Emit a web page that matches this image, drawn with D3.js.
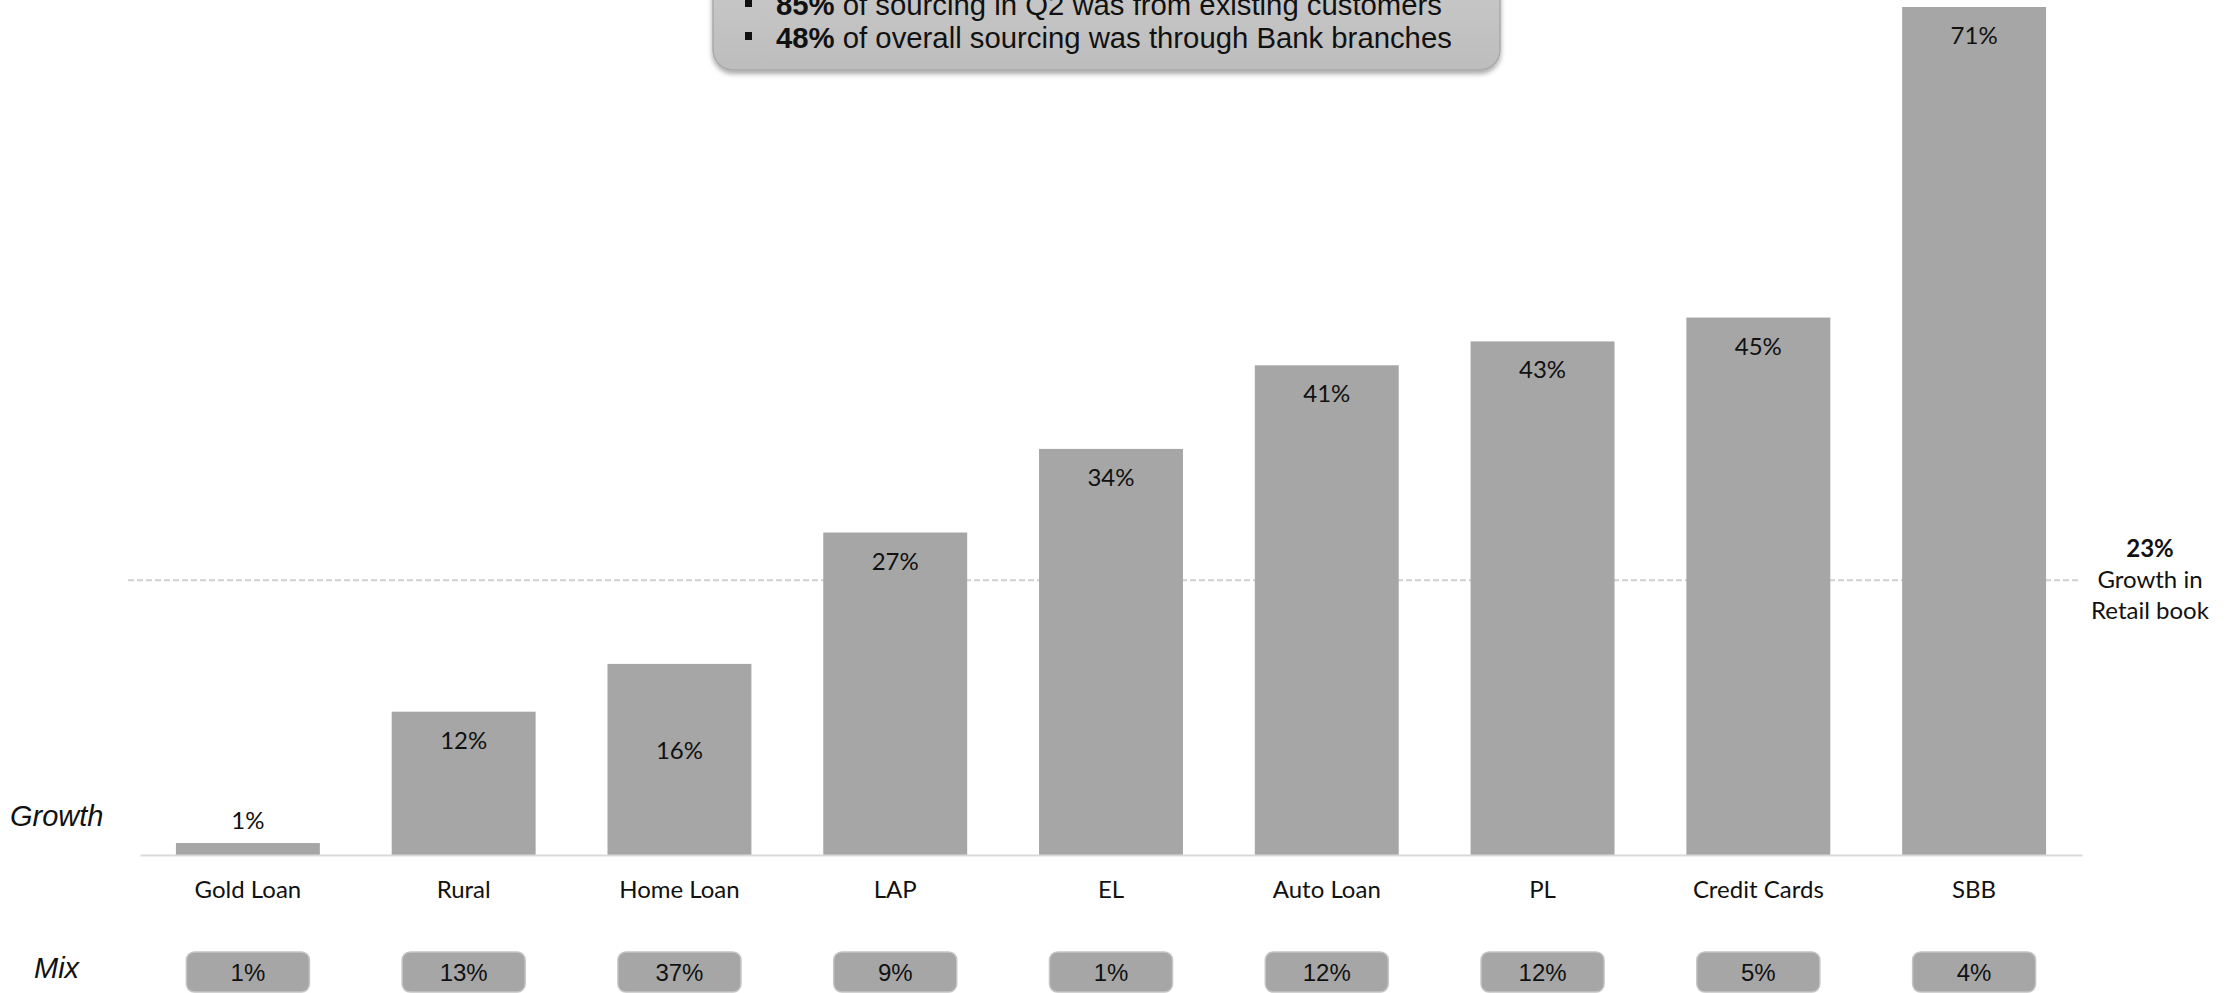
<!DOCTYPE html>
<html>
<head>
<meta charset="utf-8">
<script src="https://cdn.jsdelivr.net/npm/d3@7"></script>
<style>
  html, body { margin: 0; padding: 0; background: #ffffff; }
  svg { display: block; }
</style>
</head>
<body>
<script>
// Retail loan products: year-on-year growth and share of the retail book
const categories = ["Gold Loan", "Rural", "Home Loan", "LAP", "EL", "Auto Loan", "PL", "Credit Cards", "SBB"];
const growth = [1, 12, 16, 27, 34, 41, 43, 45, 71];
const mix = [1, 13, 37, 9, 1, 12, 12, 5, 4];
const retailGrowth = 23;
const highlights = [
  { bold: "85%", rest: " of sourcing in Q2 was from existing customers" },
  { bold: "48%", rest: " of overall sourcing was through Bank branches" }
];
const retailLines = ["Growth in", "Retail book"];

const W = 2229, H = 993;
const barColor = "#a6a6a6";
const pct = d => d + "%";

const svg = d3.select("body").append("svg")
  .attr("width", W).attr("height", H);

const defs = svg.append("defs");
const grad = defs.append("linearGradient").attr("id", "boxFill")
  .attr("x1", 0).attr("y1", 0).attr("x2", 0).attr("y2", 1);
grad.append("stop").attr("offset", "0%").attr("stop-color", "#cdcdcd");
grad.append("stop").attr("offset", "100%").attr("stop-color", "#bdbdbd");
const shadow = defs.append("filter").attr("id", "boxShadow")
  .attr("x", "-5%").attr("y", "-20%").attr("width", "110%").attr("height", "150%");
shadow.append("feDropShadow").attr("dx", 0).attr("dy", 3)
  .attr("stdDeviation", 2.5).attr("flood-color", "#000").attr("flood-opacity", 0.35);

// scales
const x = d3.scaleBand().domain(categories).range([140, 2082])
  .paddingInner(0.333).paddingOuter(0.1665);
const y = d3.scaleLinear().domain([0, d3.max(growth)]).range([855, 7]);

const rows = categories.map((c, i) => ({ cat: c, growth: growth[i], mix: mix[i] }));

// reference line: growth of the whole retail book
svg.append("line")
  .attr("x1", 128).attr("x2", 2078)
  .attr("y1", y(retailGrowth)).attr("y2", y(retailGrowth))
  .attr("stroke", "#d0d0d0").attr("stroke-width", 2)
  .attr("stroke-dasharray", "6,3");

// bars
svg.append("g").selectAll("rect").data(rows).join("rect")
  .attr("x", d => x(d.cat))
  .attr("y", d => y(d.growth))
  .attr("width", x.bandwidth())
  .attr("height", d => y(0) - y(d.growth))
  .attr("fill", barColor);

// growth labels: inside the top of the bar, above it when the bar is too short
const labelNudge = { "Home Loan": 58 };
svg.append("g").selectAll("text").data(rows).join("text")
  .attr("x", d => x(d.cat) + x.bandwidth() / 2)
  .attr("y", d => {
    const top = y(d.growth);
    if (y(0) - top < 45) return top - 14;
    return top + 37 + (labelNudge[d.cat] || 0);
  })
  .attr("text-anchor", "middle")
  .attr("font-family", "Lato, 'Open Sans', sans-serif")
  .attr("font-size", 24)
  .attr("fill", "#111")
  .text(d => pct(d.growth));

// category axis
const axis = svg.append("g")
  .attr("transform", `translate(0,${y(0)})`)
  .call(d3.axisBottom(x).tickSize(0));
axis.select(".domain").attr("stroke", "#d9d9d9").attr("stroke-width", 2);
axis.selectAll(".tick text")
  .attr("y", 43).attr("dy", 0)
  .attr("font-family", "Lato, 'Open Sans', sans-serif")
  .attr("font-size", 24)
  .attr("fill", "#111");

// mix boxes
const mixG = svg.append("g").selectAll("g").data(rows).join("g")
  .attr("transform", d => `translate(${x(d.cat) + x.bandwidth() / 2},952)`);
mixG.append("rect")
  .attr("x", -61.5).attr("y", 0).attr("width", 123).attr("height", 40)
  .attr("rx", 8).attr("ry", 8)
  .attr("fill", barColor).attr("stroke", "#c4c4c4").attr("stroke-width", 1.5);
mixG.append("text")
  .attr("y", 29).attr("text-anchor", "middle")
  .attr("font-family", "'Liberation Sans', Arial, sans-serif")
  .attr("font-size", 24)
  .attr("fill", "#111")
  .text(d => pct(d.mix));

// row titles
svg.append("text").attr("x", 10).attr("y", 826)
  .attr("font-family", "'Liberation Sans', Arial, sans-serif")
  .attr("font-style", "italic").attr("font-size", 29).attr("fill", "#111")
  .text("Growth");
svg.append("text").attr("x", 34).attr("y", 978)
  .attr("font-family", "'Liberation Sans', Arial, sans-serif")
  .attr("font-style", "italic").attr("font-size", 29).attr("fill", "#111")
  .text("Mix");

// retail book annotation
const ann = svg.append("text")
  .attr("x", 2150).attr("y", 557)
  .attr("text-anchor", "middle")
  .attr("font-family", "Lato, 'Open Sans', sans-serif")
  .attr("font-size", 24).attr("fill", "#111");
ann.append("tspan").attr("x", 2150).attr("font-weight", "bold").text(pct(retailGrowth));
retailLines.forEach(t => ann.append("tspan").attr("x", 2150).attr("dy", 31).text(t));

// highlights box at the top
const box = svg.append("g");
box.append("rect")
  .attr("x", 713).attr("y", -60).attr("width", 787).attr("height", 130)
  .attr("rx", 20).attr("ry", 20)
  .attr("fill", "url(#boxFill)").attr("stroke", "#a9a9a9").attr("stroke-width", 1.5)
  .attr("filter", "url(#boxShadow)");
highlights.forEach((h, i) => {
  const base = 15 + i * 33;
  box.append("rect")
    .attr("x", 745).attr("y", base - 16).attr("width", 7).attr("height", 8)
    .attr("fill", "#111");
  const t = box.append("text")
    .attr("x", 776).attr("y", base)
    .attr("font-family", "'Liberation Sans', Arial, sans-serif")
    .attr("font-size", 29.3).attr("fill", "#111");
  t.append("tspan").attr("font-weight", "bold").text(h.bold);
  t.append("tspan").text(h.rest);
});
</script>
</body>
</html>
